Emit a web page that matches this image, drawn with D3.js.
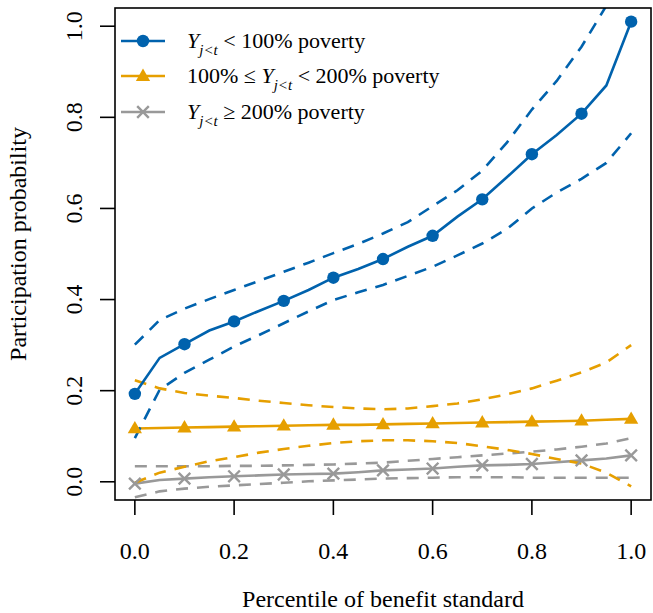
<!DOCTYPE html>
<html>
<head>
<meta charset="utf-8">
<script src="https://cdn.jsdelivr.net/npm/d3@7"></script>
<style>
  body { margin: 0; background: #fff; }
  text { font-family: "Liberation Serif", "DejaVu Serif", serif; fill: #000; }
</style>
</head>
<body>
<div id="chart"></div>
<script>
// percentile of benefit standard
var pct = [0, 0.05, 0.1, 0.15, 0.2, 0.25, 0.3, 0.35, 0.4, 0.45, 0.5,
           0.55, 0.6, 0.65, 0.7, 0.75, 0.8, 0.85, 0.9, 0.95, 1.0];

// below 100% poverty
var lowMid = [0.193, 0.272, 0.302, 0.332, 0.352, 0.375, 0.397, 0.421, 0.448, 0.467, 0.489,
              0.516, 0.540, 0.582, 0.620, 0.669, 0.719, 0.761, 0.808, 0.870, 1.010];
var lowHi  = [0.301, 0.355, 0.380, 0.401, 0.421, 0.441, 0.461, 0.481, 0.502, 0.522, 0.545,
              0.570, 0.605, 0.640, 0.683, 0.745, 0.817, 0.880, 0.955, 1.045, 1.200];
var lowLo  = [0.096, 0.202, 0.239, 0.268, 0.297, 0.322, 0.348, 0.374, 0.399, 0.416, 0.432,
              0.452, 0.472, 0.497, 0.523, 0.555, 0.600, 0.635, 0.665, 0.700, 0.765];

// 100% - 200% poverty
var midMid = [0.117, 0.118, 0.119, 0.120, 0.121, 0.122, 0.123, 0.124, 0.125, 0.125, 0.126,
              0.127, 0.128, 0.129, 0.130, 0.131, 0.132, 0.133, 0.134, 0.136, 0.138];
var midHi  = [0.223, 0.205, 0.195, 0.189, 0.184, 0.178, 0.173, 0.168, 0.164, 0.161, 0.159,
              0.161, 0.166, 0.172, 0.181, 0.192, 0.205, 0.222, 0.240, 0.262, 0.300];
var midLo  = [-0.002, 0.020, 0.033, 0.045, 0.054, 0.064, 0.072, 0.079, 0.085, 0.089, 0.091,
              0.091, 0.089, 0.085, 0.078, 0.070, 0.061, 0.050, 0.040, 0.020, -0.010];

// 200% poverty and above
var hiMid = [-0.004, 0.004, 0.007, 0.010, 0.012, 0.014, 0.016, 0.017, 0.018, 0.021, 0.025,
             0.027, 0.029, 0.033, 0.036, 0.037, 0.039, 0.043, 0.047, 0.051, 0.058];
var hiHi  = [0.034, 0.034, 0.034, 0.034, 0.035, 0.035, 0.036, 0.037, 0.038, 0.040, 0.042,
             0.046, 0.050, 0.054, 0.058, 0.062, 0.066, 0.071, 0.077, 0.084, 0.096];
var hiLo  = [-0.034, -0.021, -0.015, -0.011, -0.008, -0.005, -0.002, 0.001, 0.003, 0.005, 0.007,
             0.008, 0.009, 0.010, 0.010, 0.010, 0.009, 0.009, 0.009, 0.009, 0.009];

var xTicks = [0, 0.2, 0.4, 0.6, 0.8, 1.0];
var yTicks = [0, 0.2, 0.4, 0.6, 0.8, 1.0];

var groups = [
  {key: "low", color: "#0062ad", shape: "circle", mid: lowMid, hi: lowHi, lo: lowLo},
  {key: "mid", color: "#e69f00", shape: "triangle", mid: midMid, hi: midHi, lo: midLo},
  {key: "high", color: "#999999", shape: "cross", mid: hiMid, hi: hiHi, lo: hiLo}
];

var W = 653, H = 613;
var box = {left: 115, right: 651, top: 8, bottom: 500};

var x = d3.scaleLinear().domain([-0.04, 1.04]).range([box.left, box.right]);
var y = d3.scaleLinear().domain([-0.04, 1.04]).range([box.bottom, box.top]);

var svg = d3.select("#chart").append("svg")
  .attr("width", W).attr("height", H);

svg.append("defs").append("clipPath").attr("id", "plotclip")
  .append("rect")
  .attr("x", box.left).attr("y", box.top)
  .attr("width", box.right - box.left).attr("height", box.bottom - box.top);

var plot = svg.append("g").attr("clip-path", "url(#plotclip)");

var line = function(vals){
  return d3.line()
    .x(function(d, i){ return x(pct[i]); })
    .y(function(d){ return y(d); })(vals);
};

// draw gray first so blue sits on top
groups.slice().reverse().forEach(function(g){
  [g.hi, g.lo].forEach(function(band){
    plot.append("path")
      .attr("d", line(band))
      .attr("fill", "none")
      .attr("stroke", g.color)
      .attr("stroke-width", 2.6)
      .attr("stroke-dasharray", "12,9");
  });
  plot.append("path")
    .attr("d", line(g.mid))
    .attr("fill", "none")
    .attr("stroke", g.color)
    .attr("stroke-width", 2.6);
});

// markers every 0.1
var drawMarker = function(sel, g, cx, cy){
  if (g.shape == "circle") {
    sel.append("circle").attr("cx", cx).attr("cy", cy).attr("r", 6.2).attr("fill", g.color);
  } else if (g.shape == "triangle") {
    var s = 7.5;
    sel.append("path")
      .attr("d", "M" + cx + "," + (cy - s) + "L" + (cx + s * 0.95) + "," + (cy + s * 0.65) +
                 "L" + (cx - s * 0.95) + "," + (cy + s * 0.65) + "Z")
      .attr("fill", g.color);
  } else {
    var c = 5.8;
    sel.append("path")
      .attr("d", "M" + (cx - c) + "," + (cy - c) + "L" + (cx + c) + "," + (cy + c) +
                 "M" + (cx - c) + "," + (cy + c) + "L" + (cx + c) + "," + (cy - c))
      .attr("stroke", g.color).attr("stroke-width", 2.4).attr("fill", "none");
  }
};

groups.slice().reverse().forEach(function(g){
  pct.forEach(function(p, i){
    if (i % 2 == 0) drawMarker(plot, g, x(p), y(g.mid[i]));
  });
});

// box
svg.append("rect")
  .attr("x", box.left).attr("y", box.top)
  .attr("width", box.right - box.left).attr("height", box.bottom - box.top)
  .attr("fill", "none").attr("stroke", "#000").attr("stroke-width", 1.6);

// x axis
svg.selectAll(".xtick").data(xTicks).enter().append("line")
  .attr("x1", function(d){ return x(d); }).attr("x2", function(d){ return x(d); })
  .attr("y1", box.bottom).attr("y2", box.bottom + 15)
  .attr("stroke", "#000").attr("stroke-width", 1.6);
svg.selectAll(".xlab").data(xTicks).enter().append("text")
  .attr("x", function(d){ return x(d); }).attr("y", 559)
  .attr("text-anchor", "middle").attr("font-size", 24)
  .text(function(d){ return d3.format(".1f")(d); });

// y axis
svg.selectAll(".ytick").data(yTicks).enter().append("line")
  .attr("y1", function(d){ return y(d); }).attr("y2", function(d){ return y(d); })
  .attr("x1", box.left - 15).attr("x2", box.left)
  .attr("stroke", "#000").attr("stroke-width", 1.6);
svg.selectAll(".ylab").data(yTicks).enter().append("text")
  .attr("transform", function(d){ return "translate(82," + y(d) + ") rotate(-90)"; })
  .attr("text-anchor", "middle").attr("font-size", 24)
  .text(function(d){ return d3.format(".1f")(d); });

svg.append("text")
  .attr("x", (box.left + box.right) / 2).attr("y", 607)
  .attr("text-anchor", "middle").attr("font-size", 24)
  .text("Percentile of benefit standard");
svg.append("text")
  .attr("transform", "translate(26,244) rotate(-90)")
  .attr("text-anchor", "middle").attr("font-size", 24)
  .text("Participation probability");

// legend
var legY = [41, 76, 112];
var leg = svg.append("g");
groups.forEach(function(g, i){
  leg.append("line")
    .attr("x1", 121).attr("x2", 165).attr("y1", legY[i]).attr("y2", legY[i])
    .attr("stroke", g.color).attr("stroke-width", 2.6);
  drawMarker(leg, g, 143, legY[i]);
});

var yvar = function(t){
  t.append("tspan").attr("font-style", "italic").text("Y");
  t.append("tspan").attr("font-style", "italic").attr("font-size", 15).attr("dy", 7).text("j<t");
  return t;
};
var t1 = leg.append("text").attr("x", 187).attr("y", legY[0] + 7).attr("font-size", 22);
yvar(t1);
t1.append("tspan").attr("dy", -7).text(" < 100% poverty");

var t2 = leg.append("text").attr("x", 187).attr("y", legY[1] + 7).attr("font-size", 22);
t2.append("tspan").text("100% \u2264 ");
yvar(t2);
t2.append("tspan").attr("dy", -7).text(" < 200% poverty");

var t3 = leg.append("text").attr("x", 187).attr("y", legY[2] + 7).attr("font-size", 22);
yvar(t3);
t3.append("tspan").attr("dy", -7).text(" \u2265 200% poverty");
</script>
</body>
</html>
